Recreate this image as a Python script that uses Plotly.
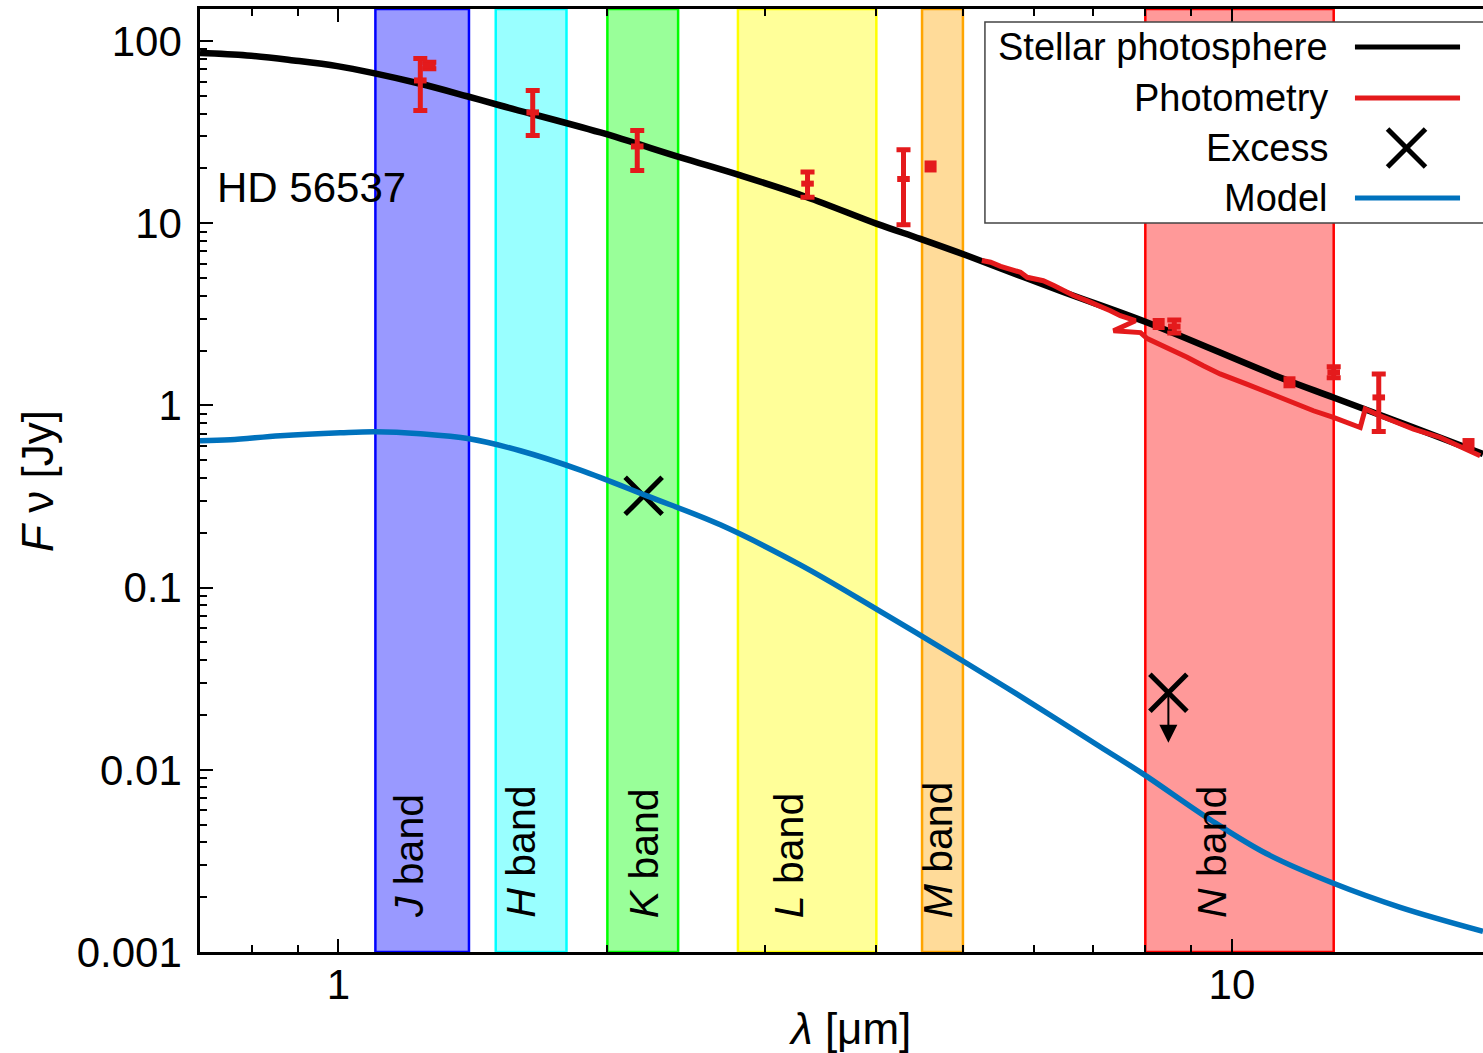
import numpy as np
import plotly.graph_objects as go

# ---------------- data (wavelength in micron, flux density in Jy) ----------------
# Stellar photosphere
star_wl = [0.70, 0.79, 0.891, 0.997, 1.095, 1.235, 1.393, 1.518, 1.964, 2.414, 2.818,
           3.345, 4.007, 4.48, 5.05, 6.43, 8.0, 11.32, 12.99, 15.97, 19.1]
star_flux = [85.9, 83.4, 78.3, 72.9, 66.7, 58.3, 49.8, 44.3, 31.5, 23.0, 18.3,
             13.9, 9.92, 8.21, 6.65, 4.25, 2.88, 1.425, 1.106, 0.757, 0.541]

# Dust model
model_wl = [0.70, 0.757, 0.861, 1.005, 1.10, 1.235, 1.401, 1.598, 1.866, 2.215, 2.676,
            3.288, 4.01, 5.00, 5.95, 7.12, 7.96, 9.46, 10.94, 12.99, 15.43, 19.1]
model_flux = [0.640, 0.648, 0.682, 0.708, 0.717, 0.699, 0.656, 0.564, 0.4417, 0.319, 0.2211,
              0.1332, 0.0757, 0.03957, 0.02339, 0.01339, 0.009471, 0.005318, 0.003459,
              0.002385, 0.00176, 0.001299]

# Mid-infrared spectrum
spec_wl = [5.25, 5.37, 5.51, 5.69, 5.80, 5.90, 6.15, 6.32, 6.48, 6.65, 6.88, 7.12, 7.31,
           7.50, 7.80, 7.37, 7.90, 8.04, 8.42, 8.91, 9.29, 9.70, 10.39, 11.32, 12.34,
           12.99, 13.92, 14.10, 14.65, 15.97, 17.11, 18.96]
spec_flux = [6.24, 6.11, 5.80, 5.50, 5.38, 5.05, 4.84, 4.55, 4.27, 4.01, 3.76, 3.53, 3.31,
             3.11, 2.92, 2.57, 2.51, 2.33, 2.10, 1.84, 1.65, 1.49, 1.31, 1.106, 0.935,
             0.859, 0.757, 0.955, 0.878, 0.742, 0.667, 0.529]

# Photometry with uncertainties
ebar_wl = [1.235, 1.264, 1.65, 2.16, 3.35, 4.29, 8.62, 13.0, 14.6]
ebar_flux = [60.8, 73.5, 40.6, 26.4, 16.5, 17.5, 2.71, 1.52, 1.107]
ebar_hi = [80.3, 76.5, 53.6, 32.3, 19.1, 25.3, 2.94, 1.63, 1.49]
ebar_lo = [41.6, 70.5, 30.3, 19.5, 13.9, 9.8, 2.50, 1.42, 0.72]

# Photometry without visible uncertainties
sq_wl = [4.6, 8.28, 11.6, 18.4]
sq_flux = [20.5, 2.80, 1.34, 0.614]

# Excess (second point is an upper limit)
excess_wl = [2.196, 8.49]
excess_flux = [0.319, 0.0265]
limit_wl = 8.49
limit_flux = 0.0265
limit_tip_flux = 0.0141

# Photometric bands
band_names = ["J", "H", "K", "L", "M", "N"]
band_lo = [1.1, 1.5, 2.0, 2.8, 4.5, 8.0]
band_hi = [1.4, 1.8, 2.4, 4.0, 5.0, 13.0]
band_label_wl = [1.2, 1.6, 2.2, 3.2, 4.7, 9.5]
band_colors = ["#0000ff", "#00ffff", "#00ff00", "#ffff00", "#ffa500", "#ff0000"]

legend_labels = ["Stellar photosphere", "Photometry", "Excess", "Model"]

RED = "#e41a1c"
BLUE = "#0072bd"
FONT = "Liberation Sans, Arial, Helvetica, sans-serif"


def hex_rgba(h, a):
    h = h.lstrip("#")
    return "rgba(%d,%d,%d,%.2f)" % (int(h[0:2], 16), int(h[2:4], 16), int(h[4:6], 16), a)


fig = go.Figure()

# excess crosses (under the model curve)
fig.add_trace(go.Scatter(
    x=excess_wl, y=excess_flux, mode="markers",
    marker=dict(symbol="x-thin", size=37, color="black", line=dict(width=5, color="black")),
))

fig.add_trace(go.Scatter(
    x=model_wl, y=model_flux, mode="lines",
    line=dict(color=BLUE, width=5.5, shape="spline"),
))

fig.add_trace(go.Scatter(
    x=star_wl, y=star_flux, mode="lines",
    line=dict(color="black", width=6.5, shape="spline"),
))

fig.add_trace(go.Scatter(
    x=spec_wl, y=spec_flux, mode="lines",
    line=dict(color=RED, width=5),
))

fig.add_trace(go.Scatter(
    x=ebar_wl, y=ebar_flux, mode="markers",
    marker=dict(symbol="line-ew", size=9, color=RED, line=dict(width=6, color=RED)),
    error_y=dict(type="data", symmetric=False,
                 array=[h - f for h, f in zip(ebar_hi, ebar_flux)],
                 arrayminus=[f - l for f, l in zip(ebar_flux, ebar_lo)],
                 color=RED, thickness=5, width=7),
))

fig.add_trace(go.Scatter(
    x=sq_wl, y=sq_flux, mode="markers",
    marker=dict(symbol="square", size=12, color=RED, line=dict(width=0)),
))

shapes = []
annotations = []

# band rectangles and labels
for name, lo, hi, col, lw in zip(band_names, band_lo, band_hi, band_colors, band_label_wl):
    shapes.append(dict(type="rect", xref="x", yref="paper", x0=lo, x1=hi, y0=0, y1=1,
                       fillcolor=hex_rgba(col, 0.4), line=dict(color=col, width=2.5),
                       layer="below"))
    annotations.append(dict(x=np.log10(lw), y=0.034, xref="x", yref="paper",
                            text="<i>%s</i> band" % name, textangle=-90, showarrow=False,
                            xanchor="center", yanchor="bottom",
                            font=dict(size=41, family=FONT, color="black")))

# upper-limit arrow
annotations.append(dict(x=np.log10(limit_wl), y=np.log10(limit_tip_flux), xref="x", yref="y",
                        ax=np.log10(limit_wl), ay=np.log10(limit_flux), axref="x", ayref="y",
                        text="", showarrow=True, arrowhead=2, arrowsize=1.8, arrowwidth=2,
                        arrowcolor="black"))

# star name
annotations.append(dict(x=0.0120, y=0.8112, xref="paper", yref="paper", text="HD 56537",
                        showarrow=False, xanchor="left", yanchor="middle",
                        font=dict(size=42, family=FONT, color="black")))

# axis titles
annotations.append(dict(x=0.5066, y=-0.0806, xref="paper", yref="paper",
                        text="<i>λ</i> [μm]", showarrow=False, xanchor="center",
                        yanchor="middle", font=dict(size=44, family=FONT, color="black")))
annotations.append(dict(x=-0.1263, y=0.4995, xref="paper", yref="paper",
                        text="<i>F</i> ν [Jy]", showarrow=False, textangle=-90,
                        xanchor="center", yanchor="middle",
                        font=dict(size=44, family=FONT, color="black")))

# key box
shapes.append(dict(type="rect", xref="paper", yref="paper", x0=0.6118, x1=1.02,
                   y0=0.7731, y1=0.9862, fillcolor="white", line=dict(color="#444", width=1.5),
                   layer="above"))
row_y = [0.9597, 0.9056, 0.8526, 0.7996]
key_text_x = 0.8807
key_line_x0, key_line_x1 = 0.9002, 0.9821
for lab, yy in zip(legend_labels, row_y):
    annotations.append(dict(x=key_text_x, y=yy, xref="paper", yref="paper", text=lab,
                            showarrow=False, xanchor="right", yanchor="middle",
                            font=dict(size=38, family=FONT, color="black")))
for yy, col, w in [(row_y[0], "black", 5), (row_y[1], RED, 5), (row_y[3], BLUE, 5)]:
    shapes.append(dict(type="line", xref="paper", yref="paper", x0=key_line_x0, x1=key_line_x1,
                       y0=yy, y1=yy, line=dict(color=col, width=w), layer="above"))
xc, dx, dy = 0.9404, 0.0148, 0.0201
shapes.append(dict(type="line", xref="paper", yref="paper", x0=xc - dx, x1=xc + dx,
                   y0=row_y[2] - dy, y1=row_y[2] + dy, line=dict(color="black", width=5),
                   layer="above"))
shapes.append(dict(type="line", xref="paper", yref="paper", x0=xc - dx, x1=xc + dx,
                   y0=row_y[2] + dy, y1=row_y[2] - dy, line=dict(color="black", width=5),
                   layer="above"))

fig.update_layout(
    width=1483, height=1053,
    margin=dict(l=200, r=0, t=9, b=101),
    paper_bgcolor="white", plot_bgcolor="white",
    showlegend=False,
    font=dict(family=FONT, size=40, color="black"),
    shapes=shapes, annotations=annotations,
)

axis_common = dict(
    type="log", showgrid=False, zeroline=False,
    showline=True, linecolor="black", linewidth=2.5,
    ticks="inside", ticklen=13, tickwidth=2, tickcolor="black",
    dtick=1, tick0=0,
    tickfont=dict(size=42, family=FONT, color="black"),
    minor=dict(ticks="inside", ticklen=7, tickwidth=2, tickcolor="black", dtick="D1",
               showgrid=False),
)
fig.update_xaxes(range=[np.log10(0.7), np.log10(19.1)], mirror="allticks",
                 ticklabelstandoff=-6, **axis_common)
fig.update_yaxes(range=[-3, np.log10(150)], mirror=False, ticklabelstandoff=7, **axis_common)

fig.write_html("out.html", config={"displayModeBar": False})
